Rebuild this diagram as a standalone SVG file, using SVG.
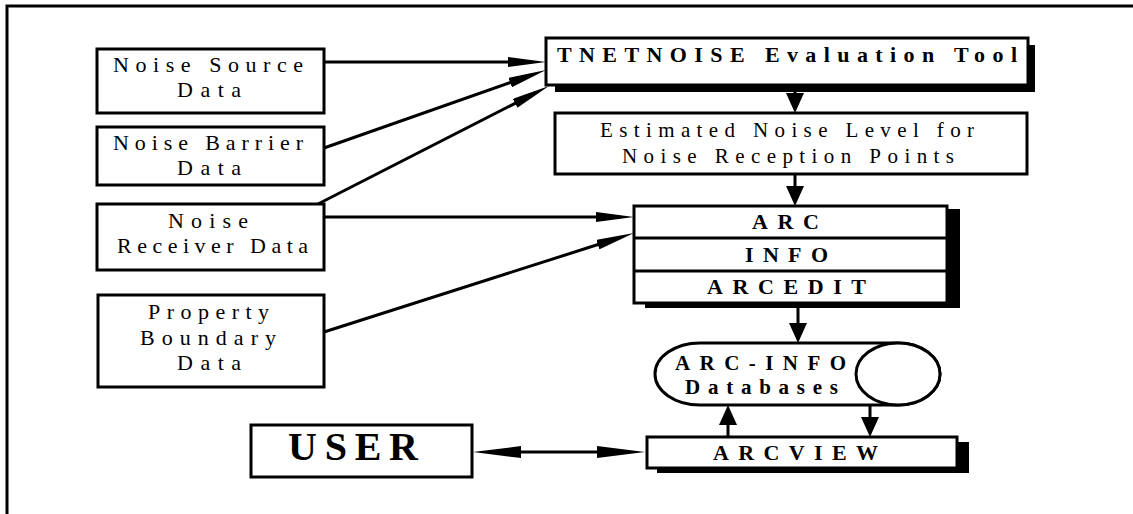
<svg xmlns="http://www.w3.org/2000/svg" width="1133" height="514" viewBox="0 0 1133 514">
<style>
.box{fill:#fff;stroke:#000;stroke-width:3}
.sh{fill:#000}
.t{font-family:"Liberation Serif","Times New Roman",serif;font-size:22px;fill:#000}
.b{font-family:"Liberation Serif","Times New Roman",serif;font-size:22px;font-weight:bold;fill:#000}
.c{fill:none;stroke:#000;stroke-width:3}
</style>
<defs>
<marker id="nar" markerUnits="userSpaceOnUse" markerWidth="38" markerHeight="10" refX="24" refY="5" orient="auto"><path d="M0,0 L38,5 L0,10 z" fill="#000"/></marker>
<marker id="lng" markerUnits="userSpaceOnUse" markerWidth="48" markerHeight="12" refX="32" refY="6" orient="auto-start-reverse"><path d="M0,0 L48,6 L0,12 z" fill="#000"/></marker>
<marker id="wid" markerUnits="userSpaceOnUse" markerWidth="20" markerHeight="18" refX="14" refY="9" orient="auto"><path d="M0,0 L20,9 L0,18 z" fill="#000"/></marker>
</defs>
<rect width="1133" height="514" fill="#fff"/>
<path d="M7,514 V6 H1133" fill="none" stroke="#000" stroke-width="3"/>

<g id="noise-source">
<rect class="box" x="97" y="49" width="227" height="64"/>
<text class="t" x="113" y="72" textLength="190" lengthAdjust="spacing">Noise Source</text>
<text class="t" x="177" y="97" textLength="64" lengthAdjust="spacing">Data</text>
</g>
<g id="noise-barrier">
<rect class="box" x="97" y="127" width="227" height="58"/>
<text class="t" x="113" y="150" textLength="190" lengthAdjust="spacing">Noise Barrier</text>
<text class="t" x="177" y="175" textLength="64" lengthAdjust="spacing">Data</text>
</g>
<g id="noise-receiver">
<rect class="box" x="97" y="204" width="227" height="66"/>
<text class="t" x="168" y="228" textLength="80" lengthAdjust="spacing">Noise</text>
<text class="t" x="117" y="253" textLength="191" lengthAdjust="spacing">Receiver Data</text>
</g>
<g id="property-boundary">
<rect class="box" x="98" y="295" width="226" height="92"/>
<text class="t" x="148" y="319" textLength="121" lengthAdjust="spacing">Property</text>
<text class="t" x="140" y="345" textLength="136" lengthAdjust="spacing">Boundary</text>
<text class="t" x="177" y="370" textLength="64" lengthAdjust="spacing">Data</text>
</g>
<g id="tnetnoise">
<rect class="sh" x="555" y="45" width="480" height="47"/>
<rect class="box" x="546" y="38" width="482" height="47"/>
<text class="b" x="557" y="62" textLength="460" lengthAdjust="spacing">TNETNOISE Evaluation Tool</text>
</g>
<g id="estimated">
<rect class="box" x="555" y="113" width="472" height="61"/>
<text class="t" x="600" y="137" textLength="374" lengthAdjust="spacing" style="font-size:21px">Estimated Noise Level for</text>
<text class="t" x="622" y="163" textLength="332" lengthAdjust="spacing" style="font-size:21px">Noise Reception Points</text>
</g>
<g id="arc-stack">
<rect class="sh" x="645" y="209" width="315" height="99"/>
<rect class="box" x="634" y="206" width="313" height="97"/>
<line class="c" x1="634" y1="238" x2="947" y2="238"/>
<line class="c" x1="634" y1="271" x2="947" y2="271"/>
<text class="b" x="752" y="229" textLength="67" lengthAdjust="spacing">ARC</text>
<text class="b" x="745" y="262" textLength="83" lengthAdjust="spacing">INFO</text>
<text class="b" x="707" y="294" textLength="159" lengthAdjust="spacing">ARCEDIT</text>
</g>
<g id="databases">
<path class="box" d="M700,343 H898 A42,31 0 0 1 898,405 H700 A45,31 0 0 1 700,343 Z"/>
<ellipse class="box" cx="898" cy="374" rx="42" ry="31"/>
<text class="b" x="675" y="370" textLength="171" lengthAdjust="spacing" style="font-size:21px">ARC-INFO</text>
<text class="b" x="685" y="394" textLength="153" lengthAdjust="spacing" style="font-size:21px">Databases</text>
</g>
<g id="arcview">
<rect class="sh" x="657" y="442" width="312" height="31"/>
<rect class="box" x="647" y="437" width="310" height="31"/>
<text class="b" x="713" y="460" textLength="165" lengthAdjust="spacing">ARCVIEW</text>
</g>
<g id="user">
<rect class="box" x="251" y="425" width="221" height="52"/>
<text class="b" x="288" y="460" textLength="130" lengthAdjust="spacing" style="font-size:40px">USER</text>
</g>

<g id="connectors">
<line class="c" x1="324" y1="62" x2="532" y2="62" marker-end="url(#nar)"/>
<line class="c" x1="324" y1="148" x2="532.8" y2="74.6" marker-end="url(#nar)"/>
<line class="c" x1="318" y1="204" x2="536.5" y2="92.4" marker-end="url(#nar)"/>
<line class="c" x1="324" y1="217" x2="620" y2="217" marker-end="url(#nar)"/>
<line class="c" x1="324" y1="332" x2="620.7" y2="237.3" marker-end="url(#nar)"/>
<line class="c" x1="795" y1="92" x2="795" y2="107" marker-end="url(#wid)"/>
<line class="c" x1="795" y1="174" x2="795" y2="200" marker-end="url(#wid)"/>
<line class="c" x1="798" y1="308" x2="798" y2="337" marker-end="url(#wid)"/>
<line class="c" x1="728" y1="437" x2="728" y2="411" marker-end="url(#wid)"/>
<line class="c" x1="870" y1="405" x2="870" y2="431" marker-end="url(#wid)"/>
<line class="c" x1="489" y1="452" x2="629" y2="452" marker-start="url(#lng)" marker-end="url(#lng)"/>
</g>
</svg>
